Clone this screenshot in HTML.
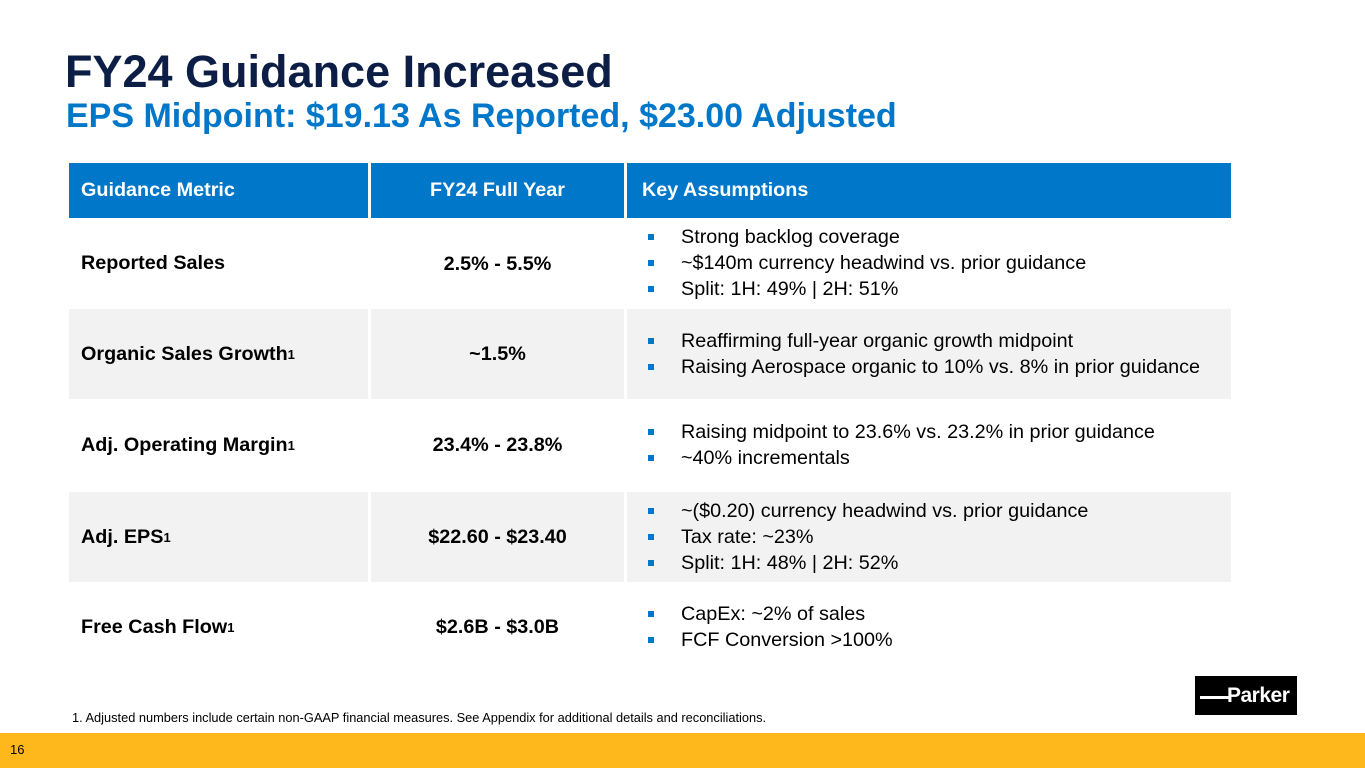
<!DOCTYPE html>
<html><head><meta charset="utf-8"><style>
*{margin:0;padding:0;box-sizing:border-box}
body{width:1365px;height:768px;position:relative;background:#fff;font-family:"Liberation Sans",Arial,sans-serif;overflow:hidden}
.a{position:absolute}
.cell{position:absolute;display:flex;align-items:center;font-size:19.8px;color:#000}
.hdr{background:#0077c8;color:#fff;font-weight:bold;font-size:19.8px}
.g{background:#f2f2f2}
.b{font-weight:bold}
ul{list-style:none;font-size:19.8px;line-height:26px}
li{position:relative;padding-left:54px}
li:before{content:"";position:absolute;left:21px;top:10px;width:6px;height:6px;background:#0077c8}
sup{font-size:13px;vertical-align:7px}
</style></head><body>
<div class="a" style="left:65px;top:46px;font-size:45px;font-weight:bold;color:#0c1e46">FY24 Guidance Increased</div>
<div class="a" style="left:66px;top:97px;font-size:34px;font-weight:bold;color:#0077c8">EPS Midpoint: $19.13 As Reported, $23.00 Adjusted</div>

<div>
<div class="cell hdr" style="left:69px;top:163px;width:299px;height:55px;padding-left:12px">Guidance Metric</div>
<div class="cell hdr" style="left:371px;top:163px;width:253px;height:55px;justify-content:center">FY24 Full Year</div>
<div class="cell hdr" style="left:627px;top:163px;width:604px;height:55px;padding-left:15px">Key Assumptions</div>

<div class="cell b" style="left:69px;top:218px;width:299px;height:90px;padding-left:12px">Reported Sales</div>
<div class="cell b" style="left:371px;top:218px;width:253px;height:90px;justify-content:center;padding-top:2px">2.5% - 5.5%</div>
<div class="cell" style="left:627px;top:218px;width:604px;height:90px"><ul><li>Strong backlog coverage</li><li>~$140m currency headwind vs. prior guidance</li><li>Split: 1H: 49% | 2H: 51%</li></ul></div>

<div class="cell b g" style="left:69px;top:309px;width:299px;height:90px;padding-left:12px">Organic Sales Growth<sup>1</sup></div>
<div class="cell b g" style="left:371px;top:309px;width:253px;height:90px;justify-content:center">~1.5%</div>
<div class="cell g" style="left:627px;top:309px;width:604px;height:90px"><ul><li>Reaffirming full-year organic growth midpoint</li><li>Raising Aerospace organic to 10% vs. 8% in prior guidance</li></ul></div>

<div class="cell b" style="left:69px;top:399px;width:299px;height:92px;padding-left:12px">Adj. Operating Margin<sup>1</sup></div>
<div class="cell b" style="left:371px;top:399px;width:253px;height:92px;justify-content:center">23.4% - 23.8%</div>
<div class="cell" style="left:627px;top:399px;width:604px;height:92px"><ul><li>Raising midpoint to 23.6% vs. 23.2% in prior guidance</li><li>~40% incrementals</li></ul></div>

<div class="cell b g" style="left:69px;top:492px;width:299px;height:90px;padding-left:12px">Adj. EPS<sup>1</sup></div>
<div class="cell b g" style="left:371px;top:492px;width:253px;height:90px;justify-content:center">$22.60 - $23.40</div>
<div class="cell g" style="left:627px;top:492px;width:604px;height:90px"><ul><li>~($0.20) currency headwind vs. prior guidance</li><li>Tax rate: ~23%</li><li>Split: 1H: 48% | 2H: 52%</li></ul></div>

<div class="cell b" style="left:69px;top:582px;width:299px;height:90px;padding-left:12px">Free Cash Flow<sup>1</sup></div>
<div class="cell b" style="left:371px;top:582px;width:253px;height:90px;justify-content:center">$2.6B - $3.0B</div>
<div class="cell" style="left:627px;top:582px;width:604px;height:90px"><ul><li>CapEx: ~2% of sales</li><li>FCF Conversion &gt;100%</li></ul></div>
</div>

<div class="a" style="left:72px;top:710px;font-size:12.8px;color:#000">1. Adjusted numbers include certain non-GAAP financial measures. See Appendix for additional details and reconciliations.</div>

<div class="a" style="left:1195px;top:676px;width:102px;height:39px;background:#000;overflow:hidden">
<div class="a" style="left:5px;top:20px;width:30px;height:3px;background:#fff"></div>
<div class="a" style="left:32px;top:8px;font-size:21px;font-weight:bold;color:#fff;letter-spacing:-0.5px">Parker</div>
</div>

<div class="a" style="left:0;top:733px;width:1365px;height:35px;background:#ffb81c"></div>
<div class="a" style="left:10px;top:742px;font-size:13px;color:#000">16</div>
</body></html>
